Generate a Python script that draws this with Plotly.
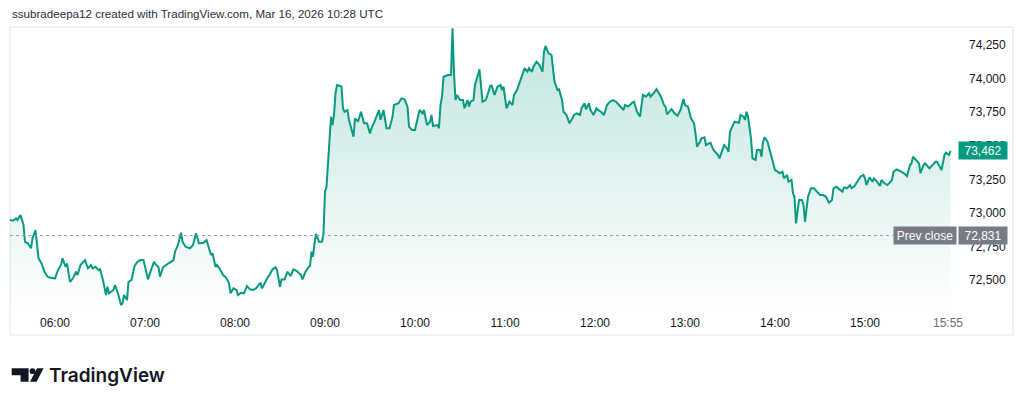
import plotly.graph_objects as go

# ---------------- data ----------------
times = [
    "05:30","05:32","05:34","05:35","05:37","05:39","05:40","05:42","05:44","05:45",
    "05:47","05:48","05:49","05:51","05:53","05:55","05:57","06:00","06:02","06:04",
    "06:05","06:07","06:08","06:10","06:12","06:14","06:15","06:17","06:19","06:20",
    "06:22","06:24","06:25","06:27","06:29","06:30","06:32","06:34","06:35","06:36",
    "06:39","06:40","06:42","06:44","06:45","06:46","06:48","06:49","06:51","06:53",
    "06:55","06:57","06:59","07:00","07:02","07:04","07:06","07:07","07:09","07:10",
    "07:12","07:14","07:16","07:19","07:20","07:22","07:24","07:25","07:27","07:30",
    "07:32","07:34","07:36","07:39","07:41","07:42","07:44","07:45","07:47","07:48",
    "07:50","07:52","07:54","07:56","07:57","07:59","08:01","08:02","08:04","08:06",
    "08:08","08:10","08:12","08:14","08:17","08:18","08:20","08:22","08:23","08:25",
    "08:27","08:28","08:30","08:31","08:33","08:35","08:37","08:39","08:41","08:44",
    "08:45","08:47","08:49","08:50","08:51","08:52","08:53","08:54","08:56","08:58",
    "08:59","09:00","09:01","09:03","09:04","09:05","09:06","09:07","09:08","09:10",
    "09:11","09:12","09:13","09:15","09:16","09:19","09:20","09:22","09:24","09:26",
    "09:28","09:30","09:31","09:33","09:36","09:37","09:39","09:41","09:43","09:45",
    "09:46","09:49","09:51","09:53","09:55","09:56","09:58","10:00","10:01","10:03",
    "10:05","10:06","10:08","10:10","10:11","10:12","10:15","10:16","10:17","10:18",
    "10:19","10:22","10:24","10:25","10:26","10:27","10:28","10:30","10:32","10:33",
    "10:35","10:36","10:37","10:39","10:40","10:42","10:43","10:45","10:47","10:48",
    "10:50","10:51","10:53","10:55","10:57","10:58","10:59","11:01","11:03","11:05",
    "11:06","11:08","11:10","11:11","11:13","11:15","11:16","11:18","11:19","11:21",
    "11:23","11:25","11:26","11:27","11:29","11:31","11:32","11:33","11:35","11:36",
    "11:38","11:39","11:41","11:43","11:45","11:46","11:48","11:50","11:51","11:53",
    "11:54","11:56","11:57","11:59","12:01","12:02","12:04","12:06","12:08","12:10",
    "12:12","12:14","12:16","12:19","12:20","12:22","12:25","12:26","12:28","12:30",
    "12:32","12:34","12:36","12:37","12:39","12:41","12:42","12:44","12:46","12:47",
    "12:48","12:50","12:51","12:53","12:55","12:57","12:59","13:00","13:02","13:04",
    "13:06","13:07","13:08","13:10","13:11","13:13","13:14","13:16","13:17","13:19",
    "13:20","13:22","13:23","13:25","13:26","13:28","13:29","13:30","13:32","13:33",
    "13:36","13:37","13:39","13:40","13:41","13:42","13:44","13:45","13:47","13:48",
    "13:50","13:51","13:52","13:53","13:55","13:57","13:59","14:00","14:02","14:03",
    "14:05","14:06","14:08","14:09","14:11","14:12","14:13","14:14","14:16","14:18",
    "14:19","14:20","14:22","14:24","14:26","14:28","14:30","14:32","14:34","14:36",
    "14:38","14:39","14:41","14:43","14:45","14:46","14:48","14:50","14:51","14:53",
    "14:55","14:57","14:59","15:00","15:01","15:03","15:05","15:06","15:08","15:10",
    "15:11","15:13","15:15","15:16","15:18","15:19","15:21","15:23","15:26","15:28",
    "15:30","15:31","15:32","15:34","15:36","15:37","15:39","15:40","15:42","15:43",
    "15:45","15:47","15:48","15:50","15:51","15:53","15:54","15:56","15:57",
]
prices = [
    72947,72942,72959,72947,72984,72910,72785,72773,72736,72811,
    72872,72773,72662,72624,72562,72525,72517,72513,72574,72612,
    72662,72599,72624,72487,72513,72562,72537,72612,72636,72649,
    72587,72612,72587,72599,72574,72580,72500,72388,72450,72401,
    72426,72463,72401,72314,72326,72388,72351,72487,72500,72604,
    72636,72649,72649,72599,72505,72574,72636,72619,72595,72525,
    72595,72612,72629,72649,72711,72761,72852,72785,72748,72736,
    72761,72848,72773,72778,72798,72761,72686,72699,72599,72612,
    72580,72537,72520,72475,72401,72438,72426,72388,72405,72401,
    72455,72431,72426,72438,72480,72438,72487,72525,72537,72580,
    72595,72574,72450,72505,72505,72562,72530,72580,72569,72537,
    72505,72562,72595,72604,72711,72674,72773,72843,72785,72785,
    72848,73158,73195,73493,73716,73654,73729,73890,73952,73945,
    73940,73779,73753,73766,73692,73567,73704,73679,73753,73667,
    73667,73592,73630,73679,73766,73692,73766,73630,73630,73716,
    73803,73816,73853,73846,73791,73642,73617,73617,73667,73766,
    73741,73766,73654,73679,73729,73647,73654,73630,73803,73865,
    74014,74027,74027,74374,74039,73840,73878,73840,73840,73779,
    73840,73791,73828,73840,73952,74039,74069,73828,73840,73865,
    73940,73952,73878,73940,73952,73915,73940,73779,73828,73803,
    73878,73915,73977,74014,74077,74051,74077,74051,74089,74126,
    74101,74051,74200,74243,74188,74176,74077,73977,73915,73920,
    73840,73753,73729,73667,73704,73729,73741,73729,73779,73816,
    73771,73816,73766,73729,73779,73766,73753,73729,73803,73828,
    73840,73828,73803,73766,73803,73791,73821,73828,73753,73716,
    73878,73865,73890,73865,73890,73922,73902,73865,73803,73791,
    73734,73766,73773,73741,73724,73766,73848,73803,73791,73704,
    73667,73592,73493,73530,73555,73563,73505,73518,73522,73468,
    73455,73431,73406,73468,73505,73481,73455,73604,73654,73679,
    73671,73729,73716,73692,73753,73716,73555,73406,73394,73468,
    73468,73418,73530,73563,73530,73444,73369,73319,73306,73295,
    73306,73257,73282,73232,73245,73146,73120,72922,73096,73096,
    73059,72934,73120,73183,73183,73158,73133,73133,73120,73076,
    73096,73183,73195,73175,73158,73190,73183,73207,73183,73200,
    73232,73269,73282,73257,73207,73265,73232,73257,73232,73200,
    73245,73220,73207,73220,73245,73306,73324,73314,73295,73274,
    73356,73369,73418,73394,73369,73295,73356,73369,73339,73332,
    73356,73381,73381,73339,73319,73431,73448,73431,73462,
]
date = "2026-03-16"
prev_close = 72831
last_price = 73462

x_tick_times = ["06:00","07:00","08:00","09:00","10:00","11:00","12:00","13:00","14:00","15:00"]
x_tick_labels = x_tick_times
last_time_label = "15:55"
y_ticks = [72500, 72750, 73000, 73250, 73500, 73750, 74000, 74250]

x_range = ["05:30", "16:00"]
y_range = [72277, 74384]

header = "ssubradeepa12 created with TradingView.com, Mar 16, 2026 10:28 UTC"

# ---------------- figure ----------------
W, H = 1024, 395
ML, MR, MT, MB = 10, 69, 27, 85
PW, PH = W - ML - MR, H - MT - MB

def px(xp):
    return (xp - ML) / PW

def py(yp):
    return (H - MB - yp) / PH

ts = [f"{date} {t}" for t in times]
GREEN = "#089981"
FONT = "Liberation Sans"

fig = go.Figure()
fig.add_trace(go.Scatter(
    x=ts, y=prices, mode="lines",
    line=dict(color=GREEN, width=2),
    fill="tozeroy",
    fillgradient=dict(type="vertical",
                      colorscale=[[0, "rgba(8,153,129,0.0)"], [1, "rgba(8,153,129,0.26)"]],
                      start=y_range[0], stop=y_range[1]),
    hoverinfo="skip", showlegend=False,
))

shapes = []
# frame
shapes.append(dict(type="rect", xref="paper", yref="paper",
                   x0=px(10), x1=px(1013), y0=py(27), y1=py(335),
                   line=dict(color="#e0e3eb", width=1), layer="below"))
# prev close dotted line
shapes.append(dict(type="line", xref="paper", yref="y",
                   x0=0, x1=px(893), y0=prev_close, y1=prev_close,
                   line=dict(color="#9598a1", width=1, dash="dot")))
# TradingView logo icon
def path(pts):
    return "M " + " L ".join(f"{px(a):.5f},{py(b):.5f}" for a, b in pts) + " Z"

shapes.append(dict(type="path", xref="paper", yref="paper",
                   path=path([(11.7, 368.3), (28.6, 368.3), (28.6, 381.7), (20.6, 381.7), (20.6, 375.2), (11.7, 375.2)]),
                   fillcolor="#131722", line=dict(width=0)))
shapes.append(dict(type="circle", xref="paper", yref="paper",
                   x0=px(29.6), x1=px(35.4), y0=py(368.3), y1=py(374.1),
                   fillcolor="#131722", line=dict(width=0)))
shapes.append(dict(type="path", xref="paper", yref="paper",
                   path=path([(37.0, 368.3), (43.6, 368.3), (36.6, 381.7), (30.0, 381.7)]),
                   fillcolor="#131722", line=dict(width=0)))

annotations = []
annotations.append(dict(xref="paper", yref="paper", x=px(10), y=py(14),
                        xanchor="left", yanchor="middle", showarrow=False,
                        text=header, font=dict(family=FONT, size=11.6, color="#2a2e39")))
annotations.append(dict(xref="x", yref="paper", x=f"{date} {last_time_label}", y=py(323),
                        xanchor="center", yanchor="middle", showarrow=False,
                        text=last_time_label, font=dict(family=FONT, size=12, color="#6a6d78")))
# last price label
annotations.append(dict(xref="paper", yref="y", x=px(958), y=last_price,
                        xanchor="left", yanchor="middle", showarrow=False,
                        text=f"{last_price:,}", bgcolor=GREEN, width=46, height=15, borderpad=1,
                        font=dict(family=FONT, size=12, color="white")))
# prev close labels
annotations.append(dict(xref="paper", yref="y", x=px(957), y=prev_close,
                        xanchor="right", yanchor="middle", showarrow=False,
                        text="Prev close", bgcolor="#787b86", width=60, height=15, borderpad=1,
                        font=dict(family=FONT, size=12, color="white")))
annotations.append(dict(xref="paper", yref="y", x=px(958), y=prev_close,
                        xanchor="left", yanchor="middle", showarrow=False,
                        text=f"{prev_close:,}", bgcolor="#787b86", width=46, height=15, borderpad=1,
                        font=dict(family=FONT, size=12, color="white")))
# TradingView wordmark
annotations.append(dict(xref="paper", yref="paper", x=px(47), y=py(375),
                        xanchor="left", yanchor="middle", showarrow=False,
                        text="TradingView",
                        font=dict(family="Inter", size=19, color="#131722", weight=600)))

fig.update_layout(
    width=W, height=H, autosize=False,
    margin=dict(l=ML, r=MR, t=MT, b=MB, pad=0),
    paper_bgcolor="white", plot_bgcolor="white",
    shapes=shapes, annotations=annotations,
    xaxis=dict(range=[f"{date} {x_range[0]}", f"{date} {x_range[1]}"],
               tickvals=[f"{date} {t}" for t in x_tick_times], ticktext=x_tick_labels,
               showgrid=False, zeroline=False, showline=False, ticks="",
               tickfont=dict(family=FONT, size=12, color="#131722"),
               ticklabelstandoff=4, fixedrange=True),
    yaxis=dict(range=y_range, side="right", tickvals=y_ticks, tickformat=",",
               showgrid=False, zeroline=False, showline=False, ticks="",
               tickfont=dict(family=FONT, size=12, color="#131722"),
               ticklabelstandoff=13, fixedrange=True),
)

fig.write_html("out.html")
